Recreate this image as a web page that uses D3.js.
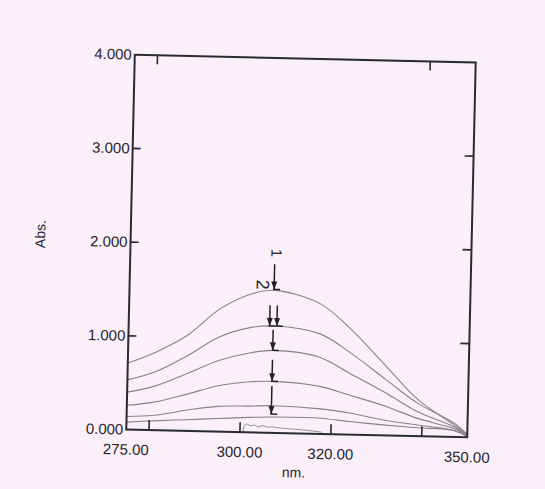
<!DOCTYPE html>
<html>
<head>
<meta charset="utf-8">
<title>Abs. spectra</title>
<script src="https://cdn.jsdelivr.net/npm/d3@7"></script>
<style>
  body { margin: 0; background: #fbeff9; }
  svg { display: block; }
  .tick-label { font-family: "Liberation Sans", Arial, sans-serif; font-size: 15px; fill: #26262c; }
</style>
</head>
<body>
<svg id="chart" width="545" height="489"></svg>
<script>
// wavelengths (nm), shared by every spectrum
var wavelengths = [275, 281, 288, 295, 302, 307, 317, 324, 332, 339, 347, 350];
var spectrum1 = [0.71, 0.83, 1.02, 1.31, 1.48, 1.52, 1.39, 1.12, 0.73, 0.39, 0.13, 0.03];
var spectrum2 = [0.53, 0.62, 0.80, 1.01, 1.12, 1.14, 1.07, 0.87, 0.59, 0.35, 0.15, 0.03];
var spectrum3 = [0.40, 0.47, 0.61, 0.76, 0.85, 0.88, 0.82, 0.65, 0.45, 0.26, 0.11, 0.02];
var spectrum4 = [0.26, 0.30, 0.39, 0.49, 0.54, 0.55, 0.51, 0.42, 0.31, 0.19, 0.09, 0.02];
var spectrum5 = [0.14, 0.16, 0.22, 0.27, 0.28, 0.29, 0.27, 0.23, 0.16, 0.12, 0.07, 0.01];
var spectrum6 = [0.08, 0.10, 0.12, 0.14, 0.16, 0.17, 0.17, 0.14, 0.11, 0.09, 0.07, 0.01];

// small noisy trace sitting on the baseline
var noiseNm  = [300.6, 300.9, 301.5, 302.3, 303.2, 304.0, 305.0, 306.0, 307.2, 308.5, 310, 312, 315, 318];
var noiseAbs = [0.00, 0.07, 0.09, 0.07, 0.08, 0.06, 0.075, 0.06, 0.065, 0.055, 0.05, 0.045, 0.035, 0.02];

var xTicks = [280, 300, 320, 340];
var xLabels = [[275, "275.00"], [300, "300.00"], [320, "320.00"], [350, "350.00"]];
var yTicks = [0, 1, 2, 3, 4];
var yLabels = ["0.000", "1.000", "2.000", "3.000", "4.000"];
var topTicks = [280, 340];
var rightTicks = [1, 2, 3];

// hand drawn arrows at the peak
var arrowNm     = [306.8, 306.0, 307.6, 306.8, 306.8, 306.8];
var arrowTop    = [1.80, 1.36, 1.36, 1.10, 0.78, 0.50];
var arrowBottom = [1.53, 1.14, 1.14, 0.88, 0.55, 0.20];

var svg = d3.select('#chart');
var plotL = 130.5, plotR = 471.5, plotT = 58.5, plotB = 433.5;

var x = d3.scaleLinear().domain([275, 350]).range([plotL, plotR]);
var y = d3.scaleLinear().domain([0, 4]).range([plotB, plotT]);

// the scan is a little tilted, so tilt the whole sheet
var g = svg.append('g').attr('transform', 'rotate(1.3, 301, 246)');

var ink = '#2a2a36';

// curves
var spectra = [spectrum1, spectrum2, spectrum3, spectrum4, spectrum5, spectrum6];
var line = d3.line()
  .x(function(d) { return x(d[0]); })
  .y(function(d) { return y(d[1]); })
  .curve(d3.curveCatmullRom.alpha(0.5));

g.selectAll('path.spec').data(spectra).enter().append('path')
  .attr('class', 'spec')
  .attr('fill', 'none')
  .attr('stroke', '#86828c')
  .attr('stroke-width', 1.1)
  .attr('d', function(s) { return line(wavelengths.map(function(w, i) { return [w, s[i]]; })); });

g.append('path')
  .attr('fill', 'none')
  .attr('stroke', '#8a868f')
  .attr('stroke-width', 0.9)
  .attr('d', d3.line().x(function(d) { return x(d[0]); }).y(function(d) { return y(d[1]); })(noiseNm.map(function(w, i) { return [w, noiseAbs[i]]; })));

// frame
g.append('rect')
  .attr('x', plotL).attr('y', plotT)
  .attr('width', plotR - plotL).attr('height', plotB - plotT)
  .attr('fill', 'none').attr('stroke', ink).attr('stroke-width', 2);

// bottom ticks (inward)
g.selectAll('line.xt').data(xTicks).enter().append('line')
  .attr('x1', function(d) { return x(d); }).attr('x2', function(d) { return x(d); })
  .attr('y1', plotB).attr('y2', plotB - 10)
  .attr('stroke', ink).attr('stroke-width', 1.6);

g.selectAll('line.tt').data(topTicks).enter().append('line')
  .attr('x1', function(d) { return x(d); }).attr('x2', function(d) { return x(d); })
  .attr('y1', plotT).attr('y2', plotT + 9)
  .attr('stroke', ink).attr('stroke-width', 1.6);

g.selectAll('line.yt').data(yTicks.slice(1, 4)).enter().append('line')
  .attr('x1', plotL).attr('x2', plotL + 8)
  .attr('y1', function(d) { return y(d); }).attr('y2', function(d) { return y(d); })
  .attr('stroke', ink).attr('stroke-width', 1.6);

g.selectAll('line.rt').data(rightTicks).enter().append('line')
  .attr('x1', plotR).attr('x2', plotR - 9)
  .attr('y1', function(d) { return y(d); }).attr('y2', function(d) { return y(d); })
  .attr('stroke', ink).attr('stroke-width', 1.6);

// tick labels
g.selectAll('text.yl').data(yTicks).enter().append('text')
  .attr('class', 'tick-label')
  .attr('x', plotL - 3)
  .attr('y', function(d) { return y(d) + 5; })
  .attr('text-anchor', 'end')
  .text(function(d, i) { return yLabels[i]; });

g.selectAll('text.xl').data(xLabels).enter().append('text')
  .attr('class', 'tick-label')
  .attr('x', function(d) { return x(d[0]); })
  .attr('y', plotB + 25)
  .attr('text-anchor', 'middle')
  .text(function(d) { return d[1]; });

g.append('text')
  .attr('class', 'tick-label')
  .attr('x', x(312)).attr('y', plotB + 44)
  .attr('text-anchor', 'middle')
  .style('font-size', '14px')
  .text('nm.');

g.append('text')
  .attr('class', 'tick-label')
  .attr('transform', 'translate(' + 45 + ',' + 240 + ') rotate(-90)')
  .attr('text-anchor', 'middle')
  .style('font-size', '14px')
  .text('Abs.');

// arrows
var ann = g.append('g').attr('stroke', '#222').attr('stroke-width', 1.5).attr('fill', '#222');
arrowNm.forEach(function(w, i) {
  var ax = x(w), y0 = y(arrowTop[i]), y1 = y(arrowBottom[i]);
  ann.append('line').attr('x1', ax).attr('x2', ax).attr('y1', y0).attr('y2', y1);
  ann.append('path').attr('stroke', 'none')
    .attr('d', 'M' + (ax - 3) + ',' + (y1 - 8) + 'L' + (ax + 3) + ',' + (y1 - 8) + 'L' + ax + ',' + y1 + 'Z');
  ann.append('line').attr('x1', ax - 1).attr('x2', ax + 6).attr('y1', y1).attr('y2', y1);
});

g.append('text')
  .attr('transform', 'translate(' + x(307.2) + ',' + y(1.92) + ') rotate(90)')
  .attr('text-anchor', 'middle')
  .attr('dy', '0.35em')
  .style('font-family', '"Liberation Sans", Arial, sans-serif')
  .style('font-size', '15px').style('fill', '#222')
  .text('1');

g.append('text')
  .attr('transform', 'translate(' + x(304.3) + ',' + y(1.58) + ') rotate(90)')
  .attr('text-anchor', 'middle')
  .attr('dy', '0.35em')
  .style('font-family', '"Liberation Sans", Arial, sans-serif')
  .style('font-size', '18px').style('fill', '#222')
  .text('2');
</script>
</body>
</html>
